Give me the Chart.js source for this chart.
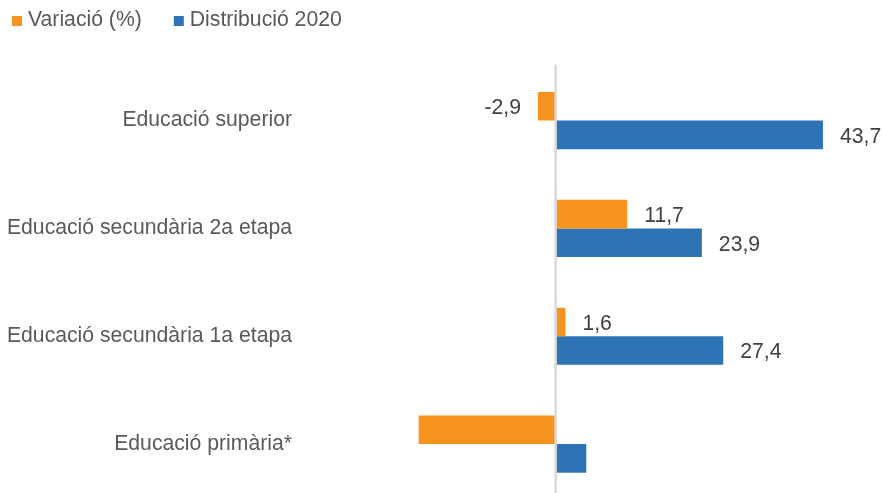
<!DOCTYPE html>
<html>
<head>
<meta charset="utf-8">
<script src="https://cdn.jsdelivr.net/npm/chart.js@4/dist/chart.umd.min.js"></script>
<style>
  html, body { margin: 0; padding: 0; background: #fff; overflow: hidden; }
  canvas { display: block; }
</style>
</head>
<body>
<canvas id="c" width="883" height="498" style="width:883px;height:498px"></canvas>
<script>
const categories = ["Educació superior", "Educació secundària 2a etapa", "Educació secundària 1a etapa", "Educació primària*"];
const seriesNames = ["Variació (%)", "Distribució 2020"];
const variacio = [-2.9, 11.7, 1.6, -22.4];
const distribucio = [43.7, 23.9, 27.4, 5.0];
const showLabel = [true, true, true, false];

const ORANGE = '#F7941F';
const BLUE = '#2E74B5';
const FONT = '"Liberation Sans", Arial, sans-serif';
const FS = 21.2;

const fmt = v => v.toFixed(1).replace('.', ',');

const customPlugin = {
  id: 'custom',
  afterDatasetsDraw(chart) {
    const ctx = chart.ctx;
    const xs = chart.scales.x;
    const area = chart.chartArea;
    const x0 = xs.getPixelForValue(0);
    ctx.save();
    ctx.strokeStyle = '#d9d9d9';
    ctx.lineWidth = 2.5;
    ctx.beginPath();
    ctx.moveTo(x0, area.top - 2);
    ctx.lineTo(x0, chart.height);
    ctx.stroke();
    ctx.font = FS + 'px ' + FONT;
    ctx.fillStyle = '#404040';
    ctx.textBaseline = 'middle';
    chart.data.datasets.forEach((ds, di) => {
      const meta = chart.getDatasetMeta(di);
      meta.data.forEach((bar, i) => {
        if (!showLabel[i]) return;
        const v = ds.data[i];
        const txt = fmt(v);
        if (v >= 0) {
          ctx.textAlign = 'left';
          ctx.fillText(txt, bar.x + 17, bar.y + 2);
        } else {
          ctx.textAlign = 'right';
          ctx.fillText(txt, bar.x - 17, bar.y + 2);
        }
      });
    });
    ctx.restore();
  },
  afterDraw(chart) {
    const ctx = chart.ctx;
    ctx.save();
    ctx.font = FS + 'px ' + FONT;
    ctx.textBaseline = 'middle';
    ctx.textAlign = 'left';
    let x = 12;
    chart.data.datasets.forEach((ds) => {
      ctx.fillStyle = ds.backgroundColor;
      ctx.fillRect(x, 16, 10, 10);
      ctx.fillStyle = '#595959';
      ctx.fillText(ds.label, x + 16, 20);
      x += 16 + ctx.measureText(ds.label).width + 32;
    });
    ctx.restore();
  }
};

new Chart(document.getElementById('c'), {
  type: 'bar',
  data: {
    labels: categories,
    datasets: [
      { label: seriesNames[0], data: variacio, backgroundColor: ORANGE },
      { label: seriesNames[1], data: distribucio, backgroundColor: BLUE }
    ]
  },
  options: {
    indexAxis: 'y',
    responsive: false,
    maintainAspectRatio: false,
    animation: false,
    devicePixelRatio: 1,
    layout: { padding: { top: 66.7, right: 21.5, left: 0, bottom: 0 } },
    datasets: { bar: { categoryPercentage: 0.53, barPercentage: 1.0 } },
    plugins: { legend: { display: false }, tooltip: { enabled: false } },
    scales: {
      x: { display: false, min: -40, max: 50 },
      y: {
        afterFit(scale) {
          scale.width = 311;
          scale.paddingTop = 0;
          scale.paddingBottom = 0;
        },
        grid: { display: false, drawTicks: false },
        border: { display: false },
        ticks: { padding: 19, color: '#595959', font: { size: FS, family: FONT } }
      }
    }
  },
  plugins: [customPlugin]
});
</script>
</body>
</html>
